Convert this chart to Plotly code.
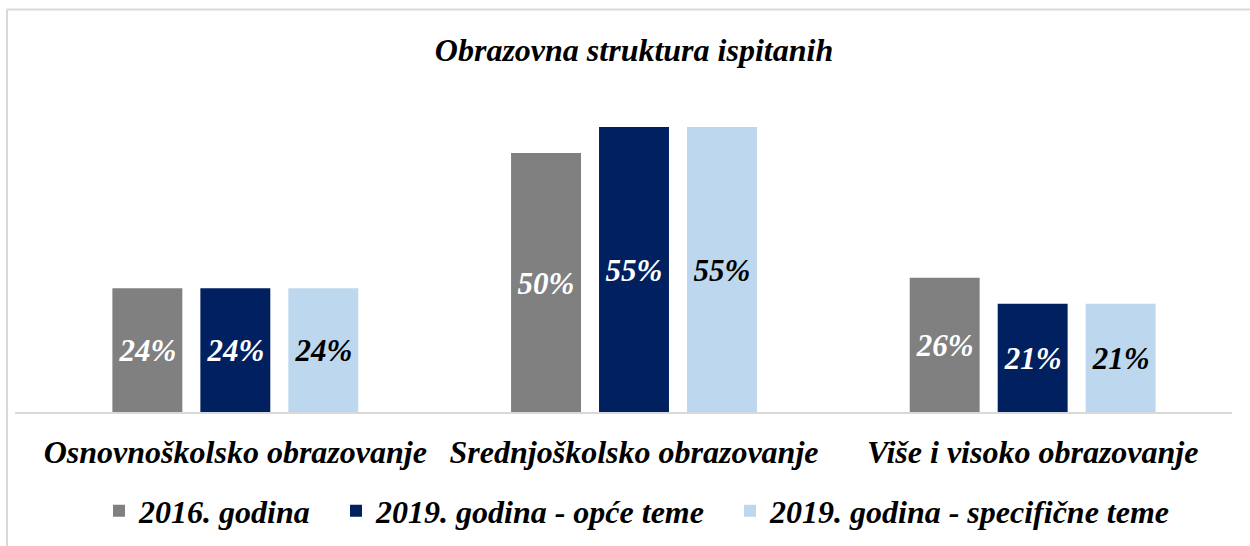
import plotly.graph_objects as go

categories = ["Osnovnoškolsko obrazovanje", "Srednjoškolsko obrazovanje", "Više i visoko obrazovanje"]
series_names = ["2016. godina", "2019. godina - opće teme", "2019. godina - specifične teme"]
values_2016 = [24, 50, 26]
values_2019_opce = [24, 55, 21]
values_2019_spec = [24, 55, 21]

colors = ["#808080", "#002060", "#BDD7EE"]
label_colors = ["white", "white", "black"]
FONT = "Times New Roman, Liberation Serif, serif"

W, H = 1250, 546
ML, MR, MT, MB = 36, 18, 101, 133
PW, PH = W - ML - MR, H - MT - MB


def px_x(px):
    return (px - ML) / PW


def px_y(py):
    return (H - MB - py) / PH


legend_ids = ["legend", "legend2", "legend3"]
legend_left_px = [99, 336, 730]

fig = go.Figure()
for name, vals, col, lcol, lid in zip(series_names, [values_2016, values_2019_opce, values_2019_spec],
                                      colors, label_colors, legend_ids):
    fig.add_trace(go.Bar(
        x=categories, y=vals, name=name, legend=lid,
        marker=dict(color=col, line=dict(width=0)),
        text=[f"{v}%" for v in vals],
        textposition="inside", insidetextanchor="middle",
        textangle=0,
        textfont=dict(family=FONT, size=31, color=lcol, style="italic", weight="bold"),
        hoverinfo="skip",
    ))

legend_font = dict(family=FONT, size=32, color="black", style="italic", weight="bold")
legend_layouts = {
    lid: dict(orientation="h", x=px_x(lx), xanchor="left", y=px_y(511), yanchor="middle",
              font=legend_font, itemwidth=30, bgcolor="rgba(0,0,0,0)")
    for lid, lx in zip(legend_ids, legend_left_px)
}

fig.update_layout(
    width=W, height=H,
    margin=dict(l=ML, r=MR, t=MT, b=MB, autoexpand=False),
    paper_bgcolor="white", plot_bgcolor="white",
    barmode="group", bargap=0.338, bargroupgap=0.205,
    title=dict(text="Obrazovna struktura ispitanih", x=634 / W, xanchor="center",
               y=1 - 50 / H, yanchor="middle", yref="container",
               font=dict(family=FONT, size=32, color="black", style="italic", weight="bold")),
    xaxis=dict(showline=False, ticks="", showgrid=False, automargin=False,
               tickfont=dict(family=FONT, size=32, color="black", style="italic", weight="bold"),
               ticklabelstandoff=17),
    yaxis=dict(range=[0, 60], visible=False, showgrid=False, automargin=False),
    showlegend=True,
    shapes=[
        # outer frame (top and left edges)
        dict(type="line", xref="paper", yref="paper", x0=px_x(7), x1=px_x(1260), y0=px_y(9.5), y1=px_y(9.5),
             line=dict(color="#D9D9D9", width=2)),
        dict(type="line", xref="paper", yref="paper", x0=px_x(7), x1=px_x(7), y0=px_y(9.5), y1=px_y(560),
             line=dict(color="#D9D9D9", width=2)),
        # category axis baseline
        dict(type="line", xref="paper", yref="paper", x0=px_x(15), x1=px_x(1232), y0=0, y1=0,
             line=dict(color="#D9D9D9", width=2)),
    ],
    **legend_layouts,
)

fig.write_html("out.html")
